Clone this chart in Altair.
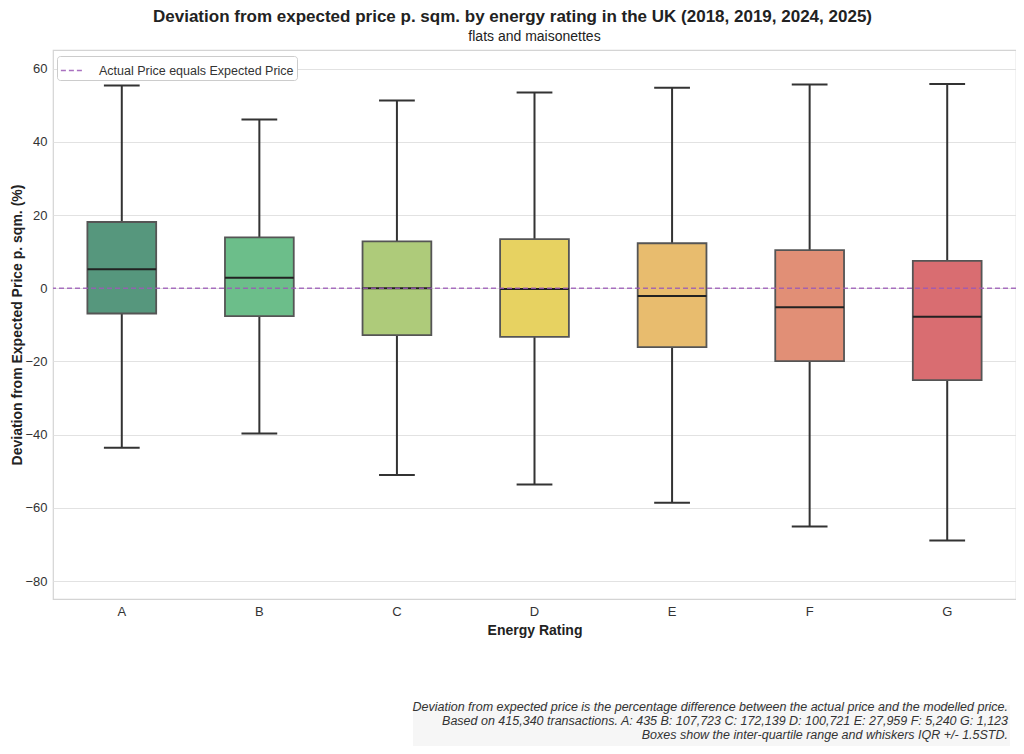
import altair as alt
import pandas as pd

ratings = ["A", "B", "C", "D", "E", "F", "G"]
whisker_low = [-43.6, -39.7, -51.0, -53.6, -58.6, -65.1, -68.9]
q1 = [-6.9, -7.6, -12.8, -13.3, -16.1, -19.9, -25.1]
median = [5.2, 2.9, 0.0, -0.2, -2.1, -5.2, -7.8]
q3 = [18.1, 13.9, 12.8, 13.4, 12.3, 10.4, 7.5]
whisker_high = [55.4, 46.1, 51.3, 53.5, 54.8, 55.7, 55.8]
box_colors = ["#56977D", "#6CBE8A", "#AECB7A", "#E7D261", "#E8BC6E", "#E18F76", "#D96D71"]

title_text = "Deviation from expected price p. sqm. by energy rating in the UK (2018, 2019, 2024, 2025)"
subtitle_text = "flats and maisonettes"
legend_label = "Actual Price equals Expected Price"
footnote_lines = [
    "Deviation from expected price is the percentage difference between the actual price and the modelled price.",
    "Based on 415,340 transactions. A: 435 B: 107,723 C: 172,139 D: 100,721 E: 27,959 F: 5,240 G: 1,123",
    "Boxes show the inter-quartile range and whiskers IQR +/- 1.5STD.",
]
y_ticks = [-80, -60, -40, -20, 0, 20, 40, 60]

W, H = 963, 549
band = W / 7.0
box_w = band * 0.5
cap_w = band * 0.26

df = pd.DataFrame({
    "rating": ratings, "low": whisker_low, "q1": q1, "median": median,
    "q3": q3, "high": whisker_high, "color": box_colors,
})

FONT = "Liberation Sans"

x_enc = alt.X("rating:N", sort=ratings,
              scale=alt.Scale(paddingInner=0, paddingOuter=0),
              axis=alt.Axis(title="Energy Rating", labelAngle=0))
y_scale = alt.Scale(domain=[-84.9, 65.1], nice=False, zero=False)

base = alt.Chart(df)

whiskers = base.mark_rule(color="#333333", strokeWidth=2).encode(
    x=x_enc,
    y=alt.Y("low:Q", scale=y_scale,
            axis=alt.Axis(title="Deviation from Expected Price p. sqm. (%)", values=y_ticks,
                          titleX=-36, titleBaseline="middle")),
    y2="high:Q",
)

boxes = base.mark_bar(size=box_w, stroke="#555555", strokeWidth=1.8, opacity=1).encode(
    x=x_enc,
    y=alt.Y("q1:Q", scale=y_scale),
    y2="q3:Q",
    fill=alt.Fill("color:N", scale=None),
)

medians = base.mark_tick(size=box_w, thickness=2, color="#222222", opacity=1).encode(
    x=x_enc, y=alt.Y("median:Q", scale=y_scale)
)
caps_low = base.mark_tick(size=cap_w, thickness=2, color="#333333", opacity=1).encode(
    x=x_enc, y=alt.Y("low:Q", scale=y_scale)
)
caps_high = base.mark_tick(size=cap_w, thickness=2, color="#333333", opacity=1).encode(
    x=x_enc, y=alt.Y("high:Q", scale=y_scale)
)

zero_rule = alt.Chart(pd.DataFrame({"v": [0]})).mark_rule(
    strokeDash=[5, 3], strokeWidth=1.5, opacity=0.85
).encode(
    y=alt.Y("v:Q", scale=y_scale),
    color=alt.Color(
        "lbl:N",
        scale=alt.Scale(domain=[legend_label], range=["#9b59b6"]),
        legend=alt.Legend(
            title=None, orient="none", legendX=4, legendY=6,
            symbolType="stroke", symbolDash=[5, 3], symbolStrokeWidth=1.5,
            symbolSize=450, labelFontSize=12.5, labelColor="#333333", labelFont=FONT,
            labelLimit=0, labelOffset=16,
            fillColor="white", strokeColor="#cccccc", cornerRadius=3, padding=3,
        ),
    ),
).transform_calculate(lbl=f"'{legend_label}'")

title_mark = alt.Chart(pd.DataFrame({"t": [title_text]})).mark_text(
    font=FONT, fontSize=17, fontWeight="bold", color="#222222", align="center", baseline="alphabetic"
).encode(x=alt.value(W / 2 - 22), y=alt.value(-28), text="t:N")

subtitle_mark = alt.Chart(pd.DataFrame({"t": [subtitle_text]})).mark_text(
    font=FONT, fontSize=14, color="#222222", align="center", baseline="alphabetic"
).encode(x=alt.value(W / 2), y=alt.value(-9), text="t:N")

foot_bg = alt.Chart(pd.DataFrame({"a": [0]})).mark_rect(color="#f6f6f6").encode(
    x=alt.value(360), x2=alt.value(957), y=alt.value(655), y2=alt.value(700)
)

footnote = alt.Chart(pd.DataFrame({"t": ["\n".join(footnote_lines)]})).mark_text(
    font=FONT, fontSize=12.5, fontStyle="italic", color="#333333", align="right",
    baseline="top", lineBreak="\n", lineHeight=14
).encode(x=alt.value(955), y=alt.value(651), text="t:N")

chart = alt.layer(
    whiskers, boxes, medians, caps_low, caps_high, zero_rule,
    title_mark, subtitle_mark, foot_bg, footnote
).properties(
    width=W, height=H,
    autosize=alt.AutoSizeParams(type="none"),
    padding={"left": 45, "top": 42, "right": 0, "bottom": 147},
).configure_view(
    stroke="#d4d4d4", strokeWidth=1.2
).configure_axis(
    labelFont=FONT, titleFont=FONT, labelFontSize=13, titleFontSize=14,
    titleFontWeight="bold", labelColor="#333333", titleColor="#222222",
    tickSize=0, domain=False, labelPadding=6,
).configure_axisY(
    grid=True, gridColor="#e2e2e2", gridWidth=1,
).configure_axisX(
    grid=False, titlePadding=5,
)

chart.save("out.html", embed_options={"renderer": "svg", "actions": False})
